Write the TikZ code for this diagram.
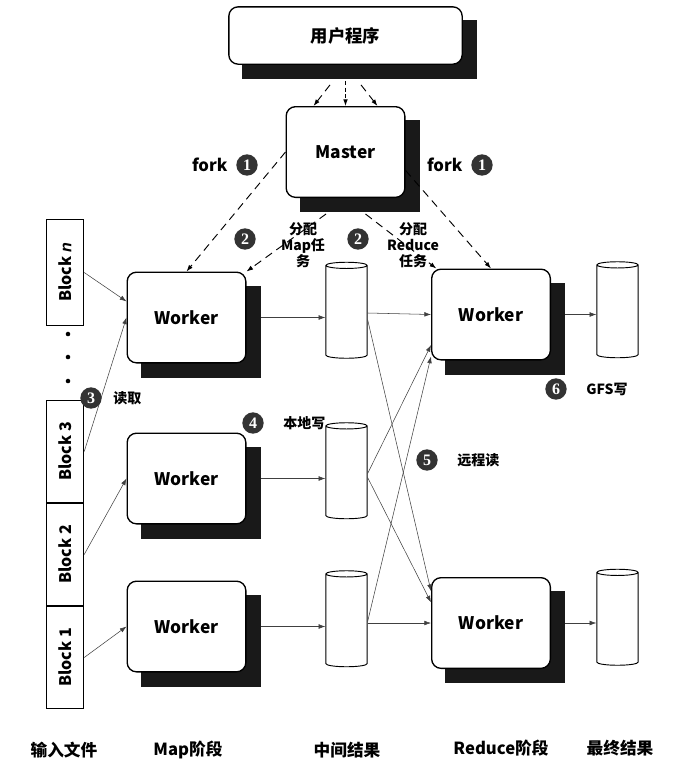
\documentclass[tikz,border=0pt]{standalone}
\usepackage{fontspec}
\setmainfont{Noto Sans CJK SC}
\newfontfamily\numfont{Liberation Serif}
\newfontfamily\itsans{Liberation Sans}
\usetikzlibrary{positioning,shapes.geometric,arrows.meta,backgrounds}

\tikzset{
  box/.style={draw, line width=1pt, rounded corners=7pt, fill=white,
    minimum width=89pt, minimum height=68pt, font=\bfseries\fontsize{13}{15}\selectfont},
  disk/.style={draw, cylinder, shape border rotate=90, aspect=0.7,
    minimum width=31pt, minimum height=72pt, fill=white, line width=0.7pt},
  block/.style={draw, line width=0.8pt, rotate=90, minimum width=77pt,
    minimum height=28pt, font=\bfseries\fontsize{12}{14}\selectfont},
  num/.style={circle, fill=black!80, text=white, inner sep=0pt,
    minimum size=16pt, font=\numfont\bfseries\fontsize{12}{12}\selectfont},
  lbl/.style={font=\bfseries\fontsize{10.5}{12}\selectfont, align=center},
  stage/.style={font=\bfseries\fontsize{12.5}{14}\selectfont},
  flow/.style={-{Latex[length=5pt,width=3.5pt]}, line width=0.4pt, black!75},
  task/.style={-{Latex[length=5pt,width=3.5pt]}, line width=0.7pt,
    dash pattern=on 6pt off 4pt},
  shadowfill/.style={fill=black!90},
}

\begin{document}
\begin{tikzpicture}[x=0.75pt, y=-0.75pt]
  \useasboundingbox (0,0) rectangle (700,776);

  % boxes
  \node [box, minimum width=175pt, minimum height=43pt] (user) at (345.5,35.5) {用户程序};
  \node [box] (master) at (345.5,152) {Master};
  \node [box] (m1) at (186.5,317.5) {Worker};
  \node [box] (m2) at (186.5,478.5) {Worker};
  \node [box] (m3) at (186.5,626.5) {Worker};
  \node [box] (r1) at (491,314.5) {Worker};
  \node [box] (r2) at (491,623) {Worker};

  \begin{scope}[on background layer]
    \foreach \n in {user,master,m1,m2,m3,r1,r2}
      \fill [shadowfill] ([shift={(10.5pt,-10.5pt)}]\n.north west)
        rectangle ([shift={(10.5pt,-10.5pt)}]\n.south east);
  \end{scope}

  % files
  \node [disk] (i1) at (346.5,313) {};
  \node [disk] (i2) at (346.5,473.5) {};
  \node [disk] (i3) at (346.5,621.5) {};
  \node [disk] (o1) at (617.5,312.5) {};
  \node [disk] (o2) at (617.5,620) {};

  % input blocks
  \node [block, minimum width=79pt] (bn) at (65,272.5) {Block {\itsans\bfseries\itshape n}};
  \node [block] (b3) at (65,451.5) {Block 3};
  \node [block] (b2) at (65,554.5) {Block 2};
  \node [block] (b1) at (65,657.5) {Block 1};
  \foreach \y in {334,357,381}
    \fill (68,\y) circle (1.7pt);

  % master assigns
  \draw [task] ([xshift=-11.6pt,yshift=-15pt]user.south) -- ([xshift=-24pt]master.north);
  \draw [task, dash pattern=on 3pt off 2pt] ([yshift=-12pt]user.south) -- (master.north);
  \draw [task] ([xshift=11.6pt,yshift=-15pt]user.south) -- ([xshift=24pt]master.north);
  \draw [task] (master.west) -- (m1.north);
  \draw [task] (master.-17) -- (r1.north);
  \draw [task] ([xshift=-14.6pt,yshift=-12pt]master.south) -- (m1.north east);
  \draw [task] ([xshift=15pt,yshift=-12pt]master.south) -- ([xshift=4pt]r1.north west);

  % data flow
  \draw [flow] (bn.south) -- (m1.165);
  \draw [flow] (b3.south) -- (m1.west);
  \draw [flow] (b2.south) -- (m2.west);
  \draw [flow] (b1.south) -- (m3.west);
  \draw [flow] ([xshift=10.5pt]m1.east) -- (i1.west |- m1.east);
  \draw [flow] ([xshift=10.5pt]m2.east) -- (i2.west |- m2.east);
  \draw [flow] ([xshift=10.5pt]m3.east) -- (i3.west |- m3.east);
  \draw [flow] (i1.east) -- (r1.west);
  \draw [flow] ([yshift=-5pt]i1.east) -- (r2.152);
  \draw [flow] (i2.east) -- (r1.207);
  \draw [flow] ([yshift=-3pt]i2.east) -- (r2.161);
  \draw [flow] (i3.east) -- (r1.215);
  \draw [flow] (i3.east |- r2.west) -- (r2.west);
  \draw [flow] ([xshift=10.5pt]r1.east) -- (o1.west |- r1.east);
  \draw [flow] ([xshift=10.5pt]r2.east) -- (o2.west |- r2.east);

  % step labels
  \node [num] (k1a) at (247,165) {1};
  \node [stage, left=3pt of k1a] {fork};
  \node [num] (k1b) at (482,165) {1};
  \node [stage, left=3pt of k1b] {fork};
  \node [num] (k2a) at (245,239) {2};
  \node [lbl] at (303,245) {分配\\Map任\\务};
  \node [num] (k2b) at (358,239) {2};
  \node [lbl] at (413,245) {分配\\Reduce\\任务};
  \node [num] (k3) at (91,398) {3};
  \node [lbl, right=5pt of k3] {读取};
  \node [num] (k4) at (253,423) {4};
  \node [lbl, right=11pt of k4] {本地写};
  \node [num] (k5) at (427,460) {5};
  \node [lbl, right=11pt of k5] {远程读};
  \node [num] (k6) at (556,389) {6};
  \node [lbl, right=11pt of k6] {GFS写};

  % stages
  \node [stage] at (64,750) {输入文件};
  \node [stage] at (188,750) {Map阶段};
  \node [stage] at (347,750) {中间结果};
  \node [stage] at (501,748) {Reduce阶段};
  \node [stage] at (620,748) {最终结果};
\end{tikzpicture}
\end{document}
